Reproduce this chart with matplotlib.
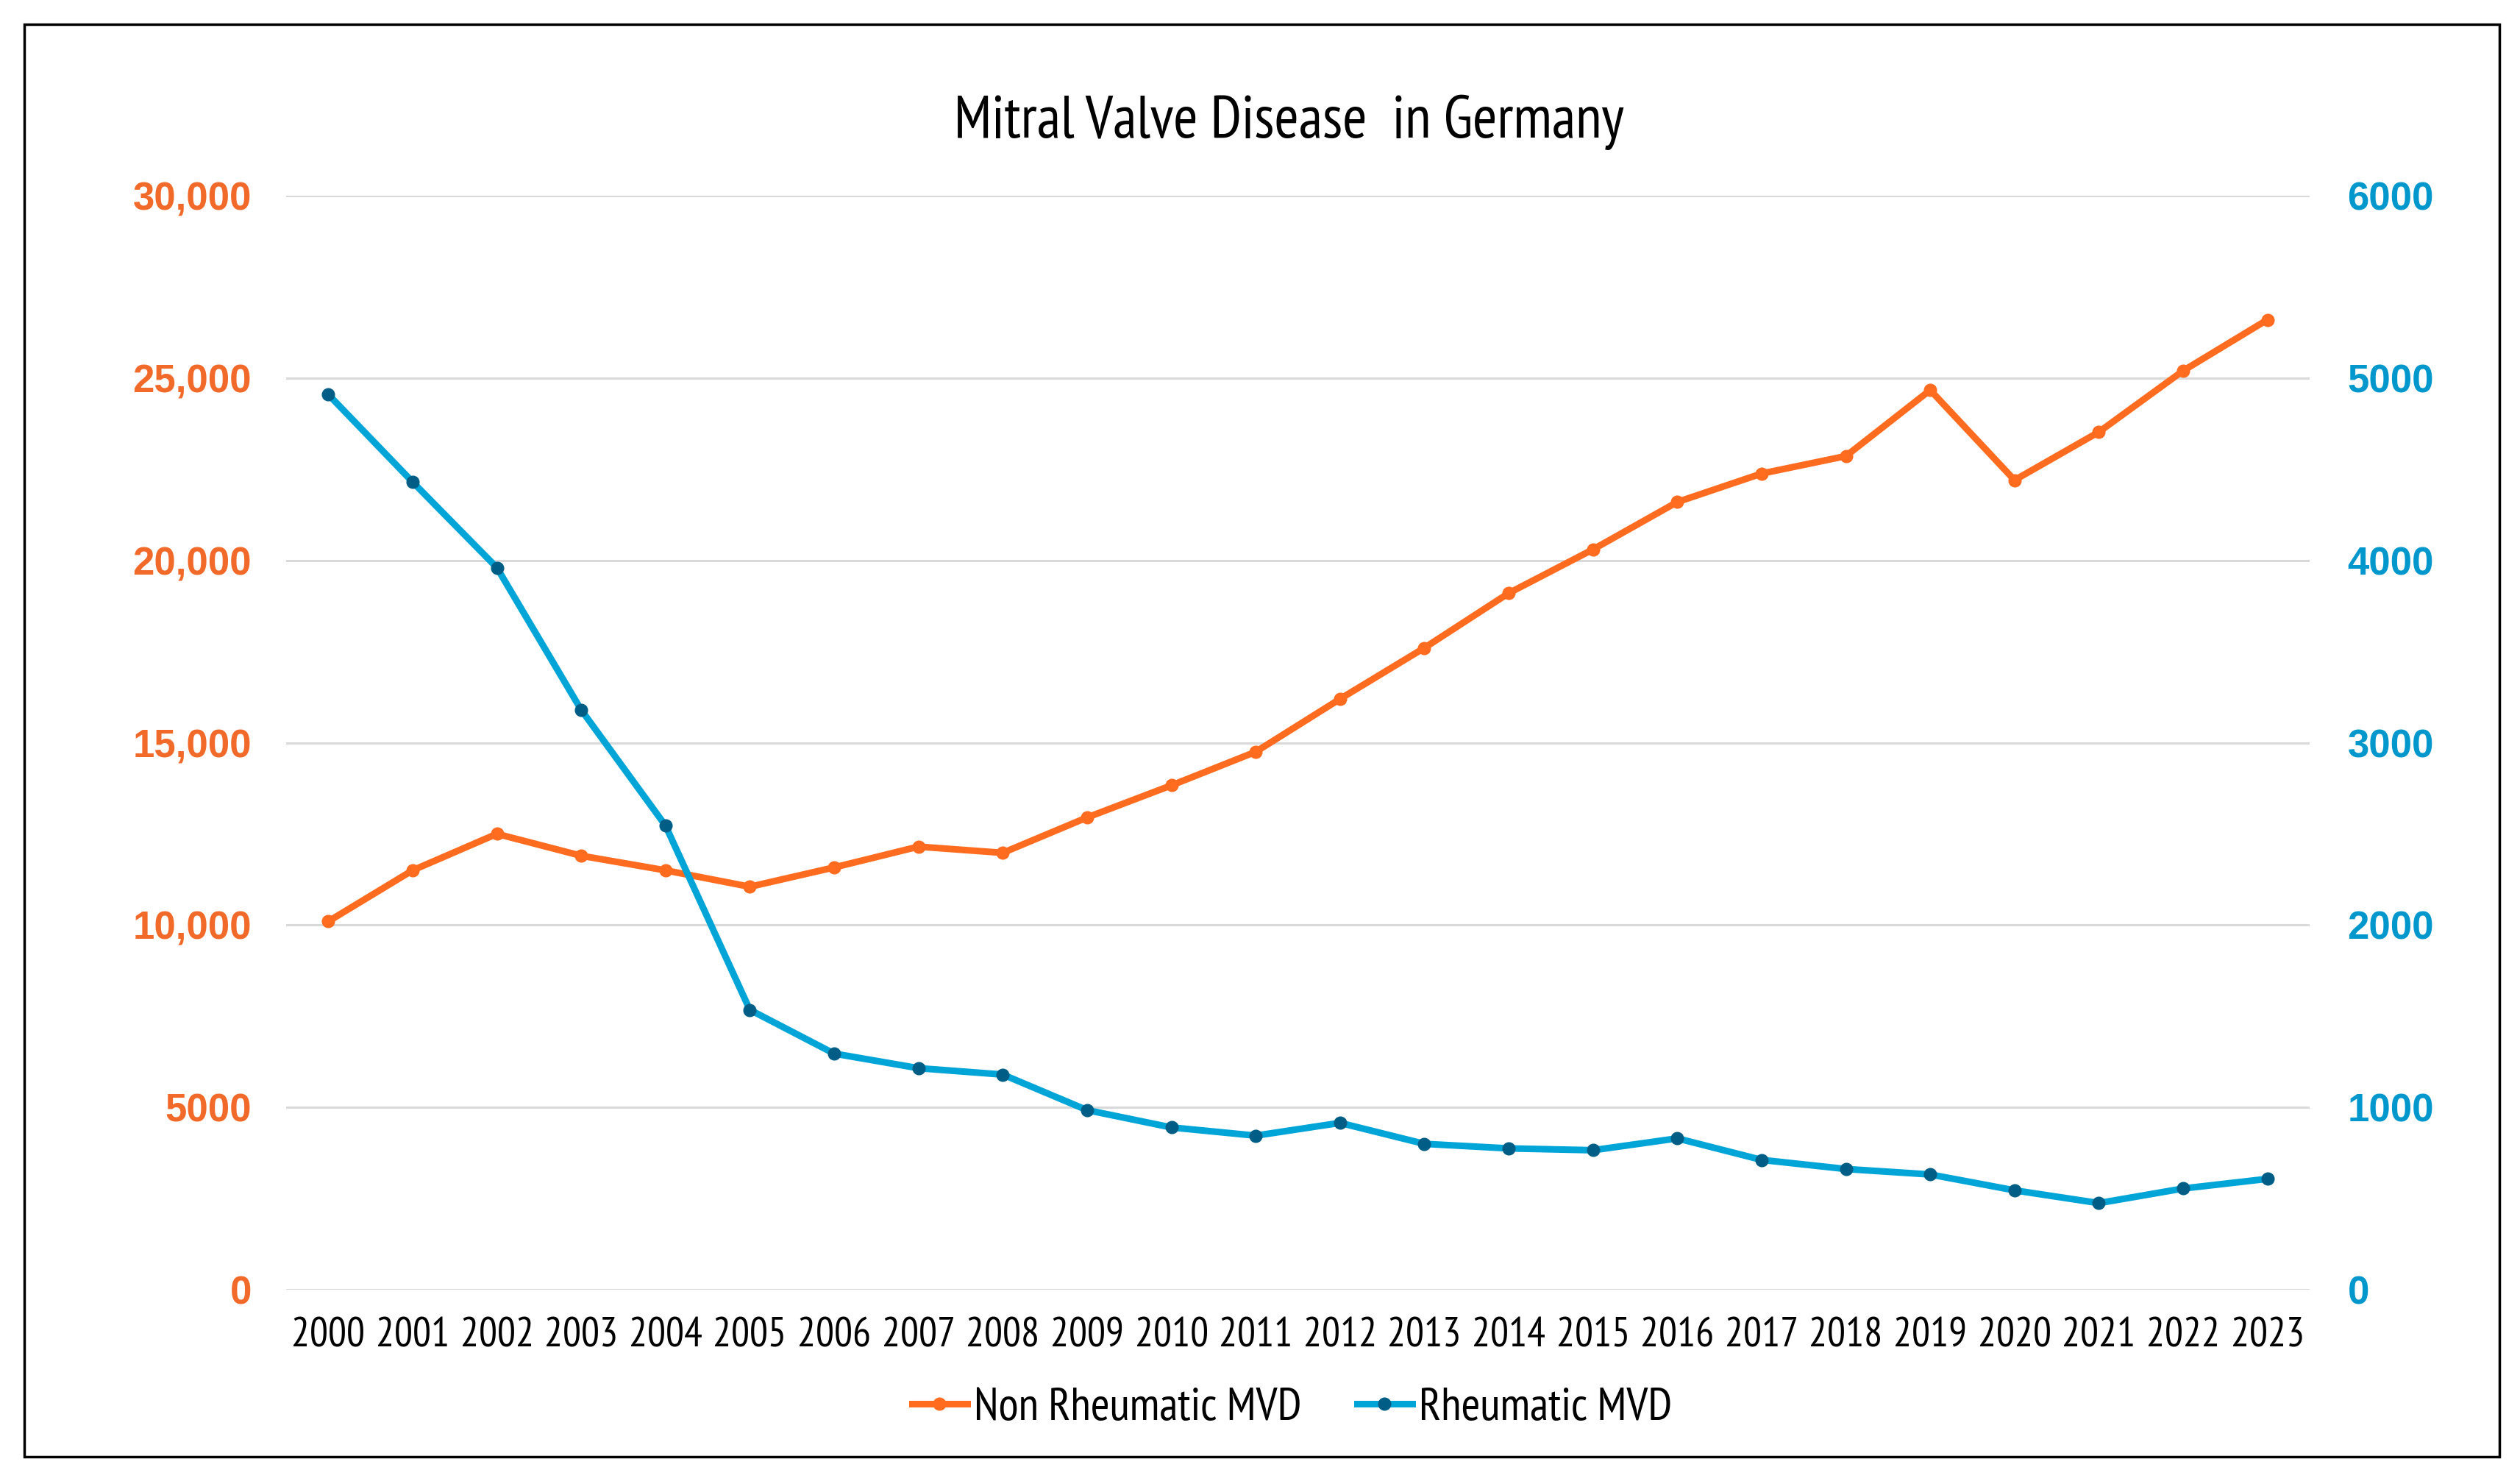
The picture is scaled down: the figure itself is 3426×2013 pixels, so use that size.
import matplotlib.pyplot as plt
from matplotlib.patches import Rectangle
from matplotlib.lines import Line2D

years = [str(y) for y in range(2000, 2024)]
non_rheumatic = [10100, 11500, 12500, 11900, 11500, 11050, 11580, 12150, 11980, 12950,
                 13830, 14750, 16200, 17600, 19100, 20300, 21600, 22380, 22860, 24670,
                 22200, 23520, 25200, 26600]
rheumatic = [4910, 4430, 3960, 3180, 2545, 1535, 1295, 1215, 1180, 985,
             890, 845, 915, 800, 775, 765, 830, 712, 662, 632,
             545, 475, 555, 608]

left_ticks = [0, 5000, 10000, 15000, 20000, 25000, 30000]
left_labels = ['0', '5000', '10,000', '15,000', '20,000', '25,000', '30,000']
right_ticks = [0, 1000, 2000, 3000, 4000, 5000, 6000]
right_labels = ['0', '1000', '2000', '3000', '4000', '5000', '6000']

orange = '#FF6B1F'
orange_txt = '#F26A2A'
blue = '#00A5D8'
blue_dark = '#005E86'
blue_txt = '#0098CC'
narrow = ['PT Sans Narrow', 'DejaVu Sans']

fig = plt.figure(figsize=(34.26, 20.13), dpi=100)
ax = fig.add_axes([389 / 3426, 1 - 1753 / 2013, (3140 - 389) / 3426, (1753 - 266) / 2013])
ax2 = ax.twinx()

x = list(range(len(years)))
ax.plot(x, non_rheumatic, color=orange, lw=6.5, marker='o', ms=12,
        mfc=orange, mec=orange, solid_joinstyle='round', zorder=3)
ax2.plot(x, rheumatic, color=blue, lw=6.5, marker='o', ms=12,
         mfc=blue_dark, mec=blue_dark, solid_joinstyle='round', zorder=3)

ax.set_xlim(-0.5, len(years) - 0.5)
ax.set_ylim(0, 30000)
ax2.set_ylim(0, 6000)

ax.set_yticks(left_ticks)
ax.set_yticklabels(left_labels, family='Liberation Sans', weight='bold',
                   fontsize=38, color=orange_txt)
ax2.set_yticks(right_ticks)
ax2.set_yticklabels(right_labels, family='Liberation Sans', weight='bold',
                    fontsize=38, color=blue_txt)
ax.set_xticks(x)
ax.set_xticklabels(years, family=narrow, fontsize=40, color='black')

ax.tick_params(axis='y', length=0, pad=34)
ax2.tick_params(axis='y', length=0, pad=37)
ax.tick_params(axis='x', length=0, pad=27)

ax.grid(axis='y', color='#D9D9D9', lw=2.2)
ax.set_axisbelow(True)
for a in (ax, ax2):
    for s in a.spines.values():
        s.set_visible(False)

fig.text(802 * 2.185 / 3426, 1 - 76 * 2.185 / 2013, 'Mitral Valve Disease  in Germany',
         family=narrow, fontsize=58, ha='center', va='center', color='black')

handles = [Line2D([], [], color=orange, lw=6.5, marker='o', ms=12, mfc=orange, mec=orange),
           Line2D([], [], color=blue, lw=6.5, marker='o', ms=12, mfc=blue_dark, mec=blue_dark)]
fig.legend(handles, ['Non Rheumatic MVD', 'Rheumatic MVD'], loc='center',
           bbox_to_anchor=(804 * 2.185 / 3426, 1 - 876 * 2.185 / 2013), ncol=2,
           frameon=False, prop={'family': narrow, 'size': 45}, handlelength=1.2,
           handletextpad=0.15, columnspacing=1.2)

fig.patches.append(Rectangle((33 / 3426, 33 / 2013), (3398 - 33) / 3426, (1980 - 33) / 2013,
                             transform=fig.transFigure, fill=False, ec='black', lw=2.5))

fig.savefig('out.png', dpi=100, facecolor='white')
